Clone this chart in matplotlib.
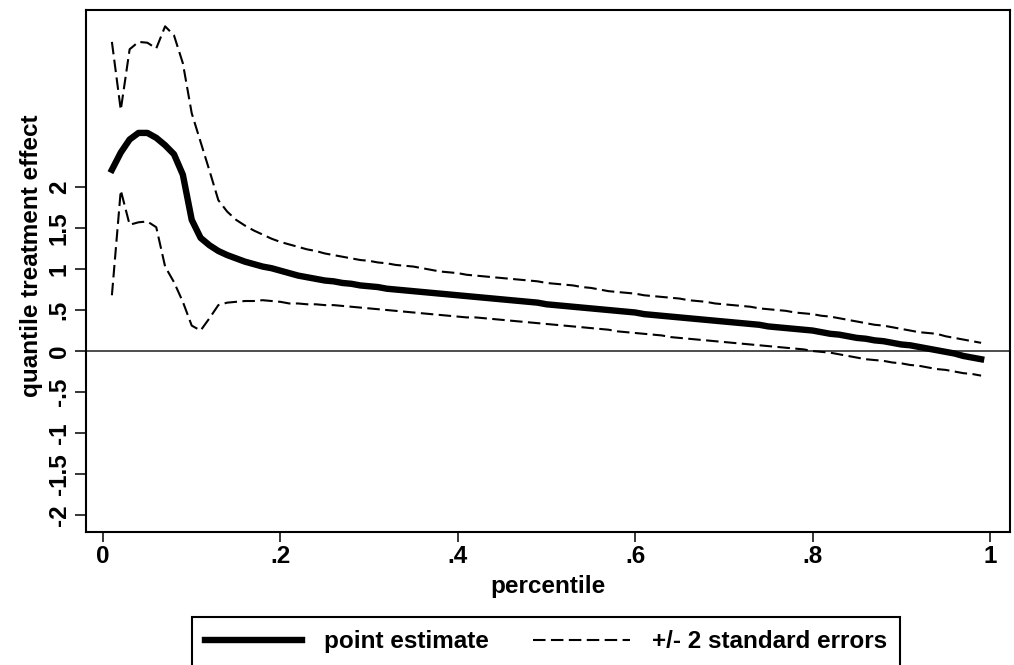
import numpy as np
import matplotlib
matplotlib.use('Agg')
import matplotlib.pyplot as plt

plt.rcParams['font.family'] = ['Liberation Sans', 'DejaVu Sans']
plt.rcParams['font.weight'] = 'bold'

# quantiles .01 ... .99
percentile = np.arange(1, 100) / 100

point_estimate = [
    2.21, 2.42, 2.58, 2.66, 2.66, 2.60, 2.51, 2.40, 2.15, 1.60,
    1.38, 1.29, 1.22, 1.17, 1.13, 1.09, 1.06, 1.03, 1.01, 0.98,
    0.95, 0.92, 0.90, 0.88, 0.86, 0.85, 0.83, 0.82, 0.80, 0.79,
    0.78, 0.76, 0.75, 0.74, 0.73, 0.72, 0.71, 0.70, 0.69, 0.68,
    0.67, 0.66, 0.65, 0.64, 0.63, 0.62, 0.61, 0.60, 0.59, 0.57,
    0.56, 0.55, 0.54, 0.53, 0.52, 0.51, 0.50, 0.49, 0.48, 0.47,
    0.45, 0.44, 0.43, 0.42, 0.41, 0.40, 0.39, 0.38, 0.37, 0.36,
    0.35, 0.34, 0.33, 0.32, 0.30, 0.29, 0.28, 0.27, 0.26, 0.25,
    0.23, 0.21, 0.20, 0.18, 0.16, 0.15, 0.13, 0.12, 0.10, 0.08,
    0.07, 0.05, 0.03, 0.01, -0.01, -0.03, -0.06, -0.08, -0.10,
]

upper = [
    3.77, 2.94, 3.68, 3.77, 3.76, 3.69, 3.96, 3.85, 3.51, 2.90,
    2.55, 2.20, 1.84, 1.70, 1.60, 1.53, 1.47, 1.42, 1.37, 1.33,
    1.30, 1.27, 1.24, 1.22, 1.19, 1.17, 1.15, 1.13, 1.11, 1.10,
    1.08, 1.07, 1.05, 1.04, 1.03, 1.01, 0.99, 0.97, 0.96, 0.95,
    0.93, 0.92, 0.91, 0.90, 0.89, 0.88, 0.87, 0.86, 0.85, 0.83,
    0.82, 0.81, 0.80, 0.78, 0.77, 0.75, 0.73, 0.72, 0.71, 0.70,
    0.68, 0.67, 0.66, 0.65, 0.64, 0.62, 0.61, 0.60, 0.58, 0.57,
    0.56, 0.55, 0.54, 0.52, 0.51, 0.50, 0.49, 0.47, 0.46, 0.45,
    0.43, 0.42, 0.40, 0.38, 0.36, 0.34, 0.32, 0.31, 0.29, 0.27,
    0.25, 0.23, 0.22, 0.21, 0.18, 0.16, 0.14, 0.12, 0.10,
]

lower = [
    0.68, 1.96, 1.54, 1.57, 1.58, 1.51, 1.03, 0.84, 0.60, 0.31,
    0.25, 0.40, 0.56, 0.59, 0.60, 0.61, 0.61, 0.62, 0.61, 0.60,
    0.58, 0.58, 0.57, 0.57, 0.56, 0.56, 0.55, 0.54, 0.53, 0.52,
    0.51, 0.50, 0.49, 0.48, 0.47, 0.46, 0.45, 0.44, 0.43, 0.42,
    0.41, 0.41, 0.40, 0.39, 0.38, 0.37, 0.36, 0.35, 0.34, 0.33,
    0.32, 0.31, 0.30, 0.29, 0.28, 0.27, 0.26, 0.24, 0.23, 0.22,
    0.21, 0.20, 0.19, 0.17, 0.16, 0.15, 0.14, 0.13, 0.12, 0.11,
    0.10, 0.09, 0.08, 0.07, 0.06, 0.05, 0.04, 0.03, 0.02, 0.00,
    -0.01, -0.02, -0.04, -0.06, -0.08, -0.10, -0.11, -0.12, -0.14, -0.15,
    -0.17, -0.18, -0.20, -0.22, -0.23, -0.25, -0.27, -0.28, -0.30,
]

xticks = [0, 0.2, 0.4, 0.6, 0.8, 1.0]
xticklabels = ['0', '.2', '.4', '.6', '.8', '1']
yticks = [-2, -1.5, -1, -0.5, 0, 0.5, 1, 1.5, 2]
yticklabels = ['-2', '-1.5', '-1', '-.5', '0', '.5', '1', '1.5', '2']

fs = 17.5

fig = plt.figure(figsize=(10.14, 6.65), dpi=100)
ax = fig.add_axes([86 / 1014, 133 / 665, 924 / 1014, 522 / 665])

ax.axhline(0, color='#4d4d4d', lw=1.4, zorder=1)
ax.plot(percentile, point_estimate, color='black', lw=4.6,
        solid_joinstyle='round', label='point estimate', zorder=3)
ax.plot(percentile, upper, color='black', lw=1.5, ls=(0, (6, 2.6)),
        label='+/- 2 standard errors', zorder=2)
ax.plot(percentile, lower, color='black', lw=1.5, ls=(0, (6, 2.6)), zorder=2)

ax.set_xlim(-0.0192, 1.0226)
ax.set_ylim(-2.207, 4.159)

ax.set_xticks(xticks)
ax.set_xticklabels(xticklabels, fontsize=fs, fontweight='bold')
ax.set_yticks(yticks)
ax.set_yticklabels(yticklabels, fontsize=fs, fontweight='bold',
                   rotation=90, va='center')
ax.tick_params(axis='x', length=7.5, width=1.1, pad=2)
ax.tick_params(axis='y', length=8, width=1.1, pad=3)

for s in ax.spines.values():
    s.set_linewidth(1.5)
    s.set_color('black')

ax.set_xlabel('percentile', fontsize=fs, fontweight='bold')
ax.xaxis.set_label_coords(0.5, -0.082)
ax.set_ylabel('quantile treatment effect', fontsize=fs, fontweight='bold')
ax.yaxis.set_label_coords(-0.046, 0.529)

leg = fig.legend(loc='upper center', bbox_to_anchor=(546 / 1014, 1 - 617 / 665),
                 ncol=2, fontsize=fs, frameon=True, fancybox=False,
                 edgecolor='black', handlelength=4.0, handletextpad=0.9,
                 columnspacing=1.8, borderpad=0.55, borderaxespad=0)
leg.get_frame().set_linewidth(1.5)
leg.get_frame().set_alpha(1)

fig.savefig('out.png', dpi=100)
